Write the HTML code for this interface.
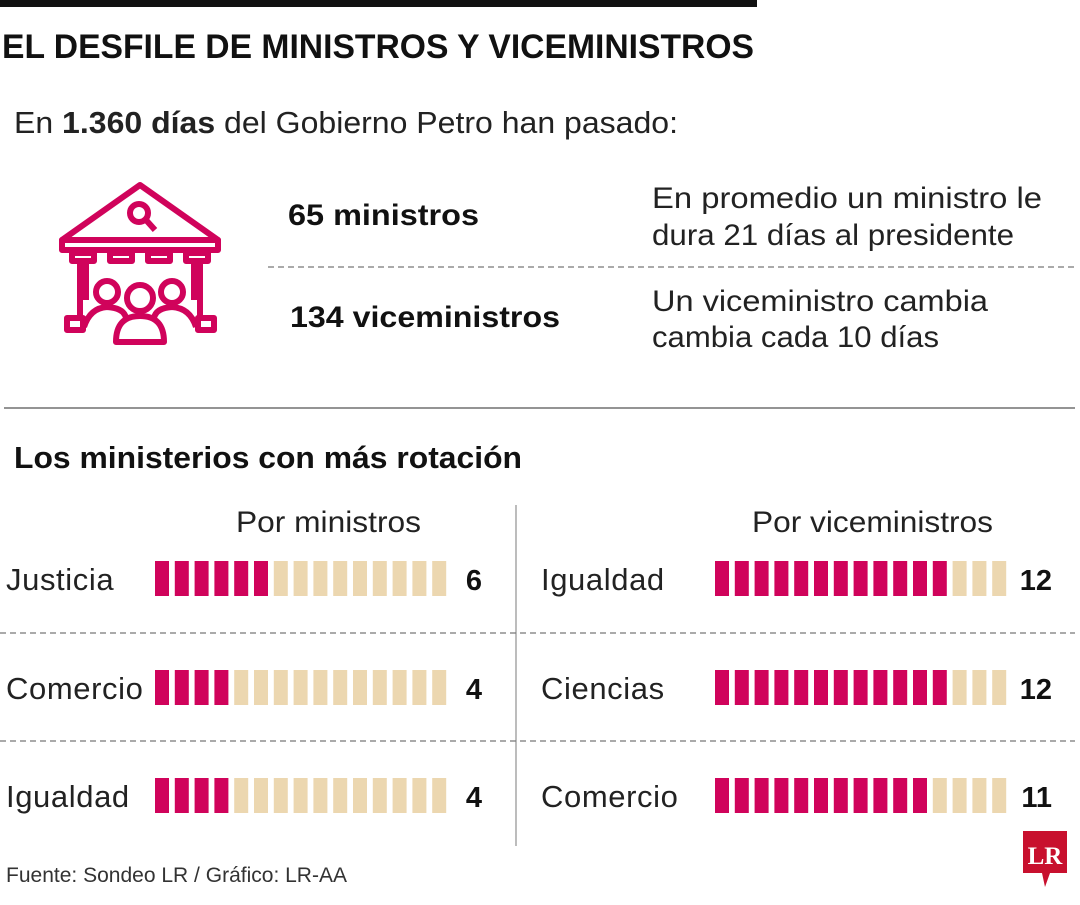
<!DOCTYPE html>
<html><head><meta charset="utf-8"><style>
body{margin:0;background:#fff;}
svg text{font-family:"Liberation Sans",sans-serif;}
</style></head><body>
<svg width="1080" height="900" viewBox="0 0 1080 900">
<rect x="0" y="0" width="757" height="7" fill="#111"/>
<text x="2" y="58" font-size="34" font-weight="bold" fill="#111" textLength="752" lengthAdjust="spacingAndGlyphs">EL DESFILE DE MINISTROS Y VICEMINISTROS</text>
<text x="14" y="133" font-size="31" fill="#222" textLength="664" lengthAdjust="spacingAndGlyphs">En <tspan font-weight="bold">1.360 días</tspan> del Gobierno Petro han pasado:</text>
<g fill="none" stroke="#d0035b" stroke-width="6" stroke-linejoin="round">
<polygon points="140,185 218,240 62,240"/>
<rect x="62" y="240" width="156" height="10"/>
<circle cx="139" cy="213" r="9"/><line x1="146" y1="220" x2="155" y2="230"/>
<rect x="72" y="253" width="22" height="8"/><rect x="110" y="253" width="22" height="8"/><rect x="148" y="253" width="22" height="8"/><rect x="186" y="253" width="22" height="8"/>
<line x1="80" y1="261" x2="80" y2="318"/><line x1="86" y1="261" x2="86" y2="300"/>
<line x1="200" y1="261" x2="200" y2="318"/><line x1="194" y1="261" x2="194" y2="300"/>
<rect x="67" y="318" width="16" height="12"/><rect x="198" y="318" width="16" height="12"/>
<circle cx="107" cy="292" r="11"/><circle cx="172" cy="292" r="11"/><circle cx="140" cy="298" r="13"/>
<path d="M84 327 Q90 308 107 307 Q124 308 126 318"/><path d="M196 327 Q190 308 172 307 Q156 308 154 318"/>
<path d="M116 342 Q116 316 140 316 Q164 316 164 342 Z"/>
</g>
<text x="288" y="225" font-size="30" font-weight="bold" fill="#111" textLength="191" lengthAdjust="spacingAndGlyphs">65 ministros</text>
<text x="652" y="208" font-size="30" fill="#222" textLength="390" lengthAdjust="spacingAndGlyphs">En promedio un ministro le</text>
<text x="652" y="245" font-size="30" fill="#222" textLength="362" lengthAdjust="spacingAndGlyphs">dura 21 días al presidente</text>
<line x1="268" y1="267" x2="1075" y2="267" stroke="#777" stroke-width="1.3" stroke-dasharray="6,4"/>
<text x="290" y="327" font-size="30" font-weight="bold" fill="#111" textLength="270" lengthAdjust="spacingAndGlyphs">134 viceministros</text>
<text x="652" y="311" font-size="30" fill="#222" textLength="336" lengthAdjust="spacingAndGlyphs">Un viceministro cambia</text>
<text x="652" y="347" font-size="30" fill="#222" textLength="287" lengthAdjust="spacingAndGlyphs">cambia cada 10 días</text>
<line x1="4" y1="408" x2="1075" y2="408" stroke="#555" stroke-width="1.3"/>
<text x="14" y="468" font-size="31" font-weight="bold" fill="#111" textLength="508" lengthAdjust="spacingAndGlyphs">Los ministerios con más rotación</text>
<text x="236" y="532" font-size="30" fill="#222" textLength="185" lengthAdjust="spacingAndGlyphs">Por ministros</text>
<text x="752" y="532" font-size="30" fill="#222" textLength="241" lengthAdjust="spacingAndGlyphs">Por viceministros</text>
<line x1="516" y1="505" x2="516" y2="846" stroke="#999" stroke-width="1.3"/>
<line x1="0" y1="633" x2="1075" y2="633" stroke="#777" stroke-width="1.3" stroke-dasharray="6,4"/>
<line x1="0" y1="741" x2="1075" y2="741" stroke="#777" stroke-width="1.3" stroke-dasharray="6,4"/>
<g id="bars"></g>
<text x="6" y="882" font-size="21" fill="#333" textLength="341" lengthAdjust="spacingAndGlyphs">Fuente: Sondeo LR / Gráfico: LR-AA</text>
<g>
<path d="M1023 831 H1067 V873 H1050 L1045 887 L1042 873 H1023 Z" fill="#c8102e"/>
<text x="1045" y="864" font-size="25" font-weight="bold" fill="#fff" text-anchor="middle" style="font-family:'Liberation Serif',serif">LR</text>
</g>
</svg>
<script>
const leftCategories = ["Justicia","Comercio","Igualdad"];
const leftValues = [6,4,4];
const rightCategories = ["Igualdad","Ciencias","Comercio"];
const rightValues = [12,12,11];
const totalSegments = 15;
const NS="http://www.w3.org/2000/svg";
const g=document.getElementById('bars');
const rowY=[561,670,778];
function panel(cats,vals,labelX,barX,pitch,segW,valX,side){
  cats.forEach((c,i)=>{
    const y=rowY[i];
    const t=document.createElementNS(NS,'text');
    t.setAttribute('x',labelX);t.setAttribute('y',y+29);t.setAttribute('font-size','31');t.setAttribute('fill','#222');
    t.setAttribute('style','letter-spacing:0.6px');
    t.textContent=c;
    
    
    g.appendChild(t);
    for(let s=0;s<totalSegments;s++){
      const r=document.createElementNS(NS,'rect');
      r.setAttribute('x',barX+s*pitch);r.setAttribute('y',y);r.setAttribute('width',segW);r.setAttribute('height',35);
      r.setAttribute('fill',s<vals[i]?'#d0035b':'#ecd7b0');
      
      
      g.appendChild(r);
    }
    const v=document.createElementNS(NS,'text');
    v.setAttribute('x',valX);v.setAttribute('y',y+29);v.setAttribute('font-size','29');v.setAttribute('font-weight','bold');v.setAttribute('fill','#111');v.setAttribute('text-anchor','end');
    v.textContent=vals[i];
    
    
    g.appendChild(v);
  });
}
panel(leftCategories,leftValues,6,155,19.8,14,482,'left');
panel(rightCategories,rightValues,541,715,19.8,14,1052,'right');
</script>
</body></html>
